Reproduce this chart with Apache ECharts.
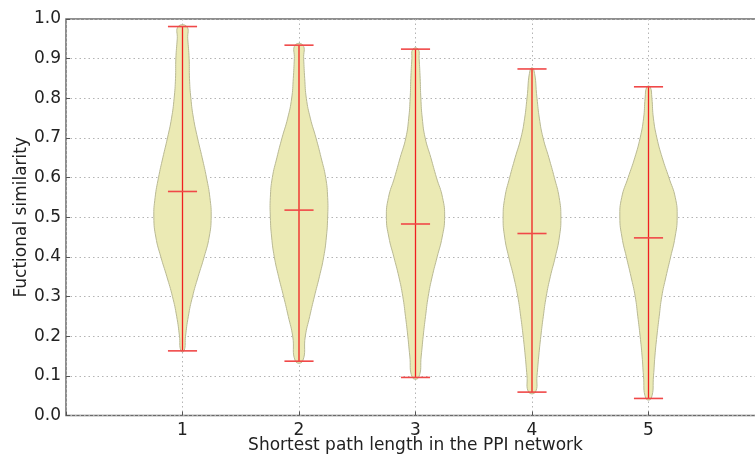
<!DOCTYPE html>
<html>
<head>
<meta charset="utf-8">
<script src="https://cdn.jsdelivr.net/npm/echarts@6/dist/echarts.min.js"></script>
<style>html,body{margin:0;padding:0;background:#fff}#c{width:755px;height:461px}</style>
</head>
<body>
<div id="c"></div>
<script>
var categories = [1, 2, 3, 4, 5];
var mins  = [0.163, 0.137, 0.096, 0.059, 0.043];
var maxs  = [0.981, 0.934, 0.924, 0.874, 0.829];
var means = [0.565, 0.518, 0.483, 0.459, 0.448];

var v1Y = [0.163,0.2,0.25,0.3,0.35,0.4,0.45,0.5,0.55,0.6,0.65,0.7,0.75,0.8,0.85,0.9,0.95,0.981];
var v1W = [0.014,0.026,0.05,0.086,0.134,0.186,0.229,0.246,0.235,0.206,0.169,0.129,0.094,0.072,0.06,0.057,0.045,0.037];
var v2Y = [0.137,0.2,0.25,0.3,0.35,0.4,0.45,0.5,0.55,0.6,0.65,0.7,0.75,0.8,0.85,0.9,0.934];
var v2W = [0.031,0.054,0.092,0.132,0.175,0.212,0.235,0.246,0.246,0.229,0.19,0.146,0.097,0.063,0.049,0.04,0.034];
var v3Y = [0.096,0.15,0.2,0.25,0.3,0.35,0.4,0.45,0.5,0.55,0.6,0.65,0.7,0.75,0.8,0.85,0.9,0.924];
var v3W = [0.027,0.049,0.066,0.086,0.109,0.143,0.186,0.229,0.25,0.232,0.18,0.132,0.083,0.058,0.046,0.04,0.031,0.023];
var v4Y = [0.059,0.1,0.15,0.2,0.25,0.3,0.35,0.4,0.45,0.5,0.55,0.6,0.65,0.7,0.75,0.8,0.874];
var v4W = [0.029,0.043,0.058,0.076,0.097,0.122,0.157,0.2,0.235,0.248,0.233,0.192,0.145,0.095,0.063,0.043,0.014];
var v5Y = [0.043,0.1,0.15,0.2,0.25,0.3,0.35,0.4,0.45,0.5,0.55,0.6,0.65,0.7,0.75,0.8,0.829];
var v5W = [0.023,0.043,0.055,0.072,0.092,0.114,0.15,0.19,0.228,0.246,0.23,0.175,0.118,0.072,0.042,0.029,0.014];

var profilesY = [v1Y, v2Y, v3Y, v4Y, v5Y];
var profilesW = [v1W, v2W, v3W, v4W, v5W];
var capHalf = 0.125;

var chart = echarts.init(document.getElementById('c'), null, {renderer: 'canvas'});
var font = 'DejaVu Sans';

function renderViolin(params, api) {
  var i = params.dataIndex;
  var c = categories[i];
  var ys = profilesY[i], ws = profilesW[i];
  var pts = [];
  for (var k = 0; k < ys.length; k++) pts.push(api.coord([c + ws[k], ys[k]]));
  for (var k2 = ys.length - 1; k2 >= 0; k2--) pts.push(api.coord([c - ws[k2], ys[k2]]));
  var pMin = api.coord([c, mins[i]]), pMax = api.coord([c, maxs[i]]);
  function cap(v) {
    var a = api.coord([c - capHalf, v]), b = api.coord([c + capHalf, v]);
    return {type: 'line', shape: {x1: a[0], y1: a[1], x2: b[0], y2: b[1]},
            style: {stroke: '#f04848', lineWidth: 1.6}};
  }
  return {
    type: 'group',
    children: [
      {type: 'polygon', shape: {points: pts, smooth: 0.5},
       style: {fill: '#ebeab4', stroke: '#b9b994', lineWidth: 1}},
      {type: 'line', shape: {x1: pMin[0], y1: pMin[1], x2: pMax[0], y2: pMax[1]},
       style: {stroke: '#f02020', lineWidth: 1.3}},
      cap(mins[i]), cap(maxs[i]), cap(means[i])
    ]
  };
}

var option = {
  animation: false,
  grid: {left: 66, top: 19, right: -10, bottom: 45.5, show: true,
         outerBoundsMode: 'none', containLabel: false,
         borderColor: '#6a6a6a', borderWidth: 1.5, backgroundColor: 'transparent'},
  xAxis: {
    type: 'value', min: 0, max: 6, interval: 1,
    name: 'Shortest path length in the PPI network', nameLocation: 'middle', nameGap: 22,
    nameMoveOverlap: false,
    nameTextStyle: {fontFamily: font, fontSize: 17, color: '#222', verticalAlign: 'top', lineHeight: 17},
    axisLine: {show: false},
    axisTick: {show: true, inside: true, length: 4, lineStyle: {color: '#555'}},
    axisLabel: {fontFamily: font, fontSize: 17, color: '#222', margin: 7,
      formatter: function (v) { return (v >= 1 && v <= 5) ? String(v) : ''; }},
    splitLine: {show: true, lineStyle: {color: '#b4b4b4', type: [1.5, 3], width: 1}}
  },
  yAxis: {
    type: 'value', min: 0, max: 1, interval: 0.1,
    name: 'Fuctional similarity', nameLocation: 'middle', nameGap: 36,
    nameMoveOverlap: false,
    nameTextStyle: {fontFamily: font, fontSize: 17, color: '#222'},
    axisLine: {show: false},
    axisTick: {show: true, inside: true, length: 4, lineStyle: {color: '#555'}},
    axisLabel: {fontFamily: font, fontSize: 17, color: '#222', margin: 5,
      formatter: function (v) { return v.toFixed(1); }},
    splitLine: {show: true, lineStyle: {color: '#b4b4b4', type: [1.5, 3], width: 1}}
  },
  series: [{
    type: 'custom',
    renderItem: renderViolin,
    data: categories.map(function (c, i) { return [c, i]; }),
    encode: {x: 0, y: -1},
    clip: false
  }]
};
chart.setOption(option);
</script>
</body>
</html>
